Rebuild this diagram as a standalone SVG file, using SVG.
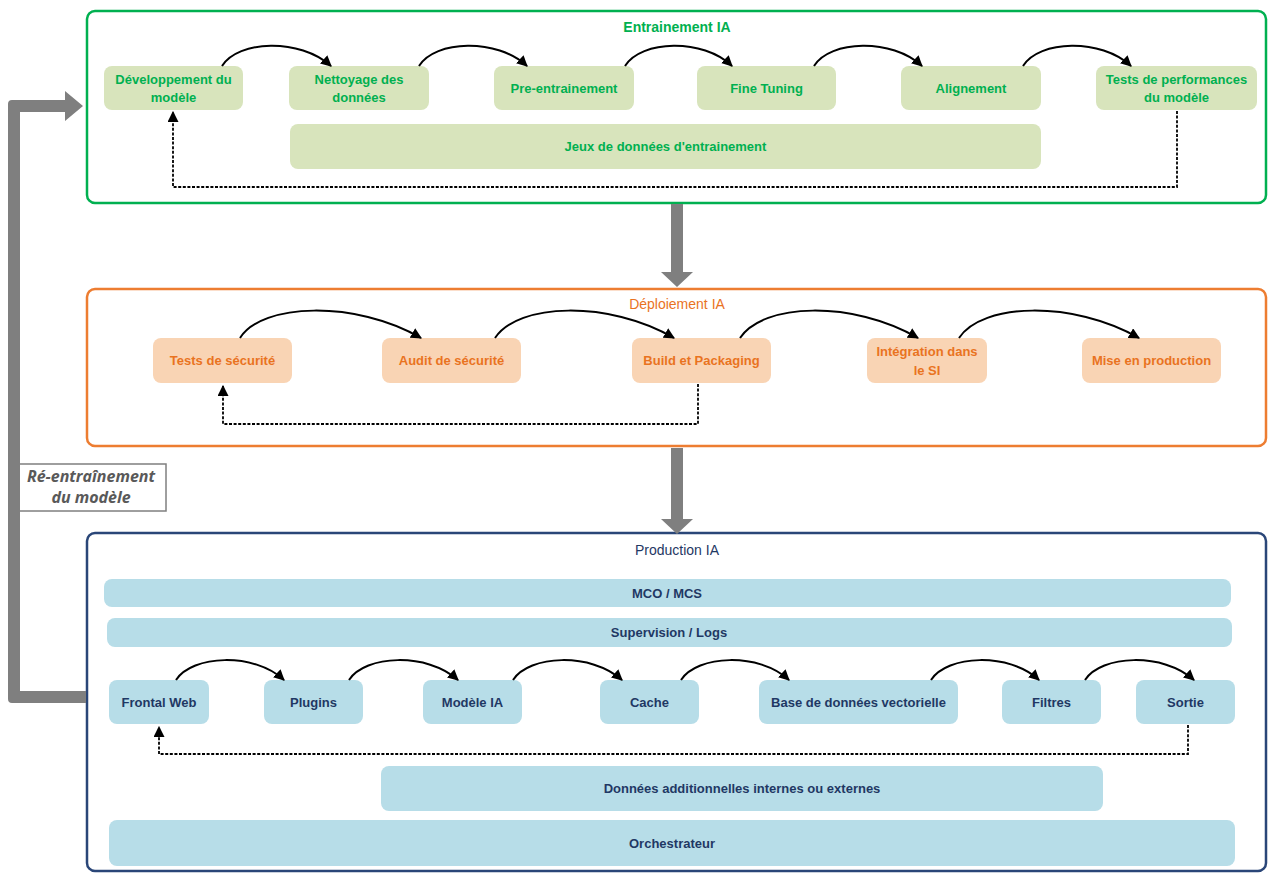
<svg xmlns="http://www.w3.org/2000/svg" width="1268" height="873" viewBox="0 0 1268 873">
<defs>
<style>
text{font-family:"Liberation Sans",Arial,sans-serif;text-anchor:middle}
.t{font-size:13px;font-weight:bold}
.g text{fill:#00b050}
.o text{fill:#e9731f}
.b text{fill:#1f3864}
.gn{fill:#d8e4bc}
.on{fill:#f9d4b4}
.bn{fill:#b7dde8}
.arc{fill:none;stroke:#000;stroke-width:2;marker-end:url(#ah)}
.dash{fill:none;stroke:#000;stroke-width:1.8;stroke-dasharray:3 1.6;marker-end:url(#ah)}
.grey{fill:#7f7f7f}
.lbl{font-family:"Open Sans","Liberation Sans",sans-serif;font-size:16px;font-style:italic;font-weight:bold;fill:#595959}
</style>
<marker id="ah" viewBox="0 0 10 10" refX="9" refY="5" markerWidth="11" markerHeight="11" markerUnits="userSpaceOnUse" orient="auto">
<path d="M0,0 L10,5 L0,10 z" fill="#000"/>
</marker>
</defs>
<rect width="1268" height="873" fill="#fff"/>

<!-- Panels -->
<g id="panel-entrainement" class="g">
<rect x="87" y="11" width="1179" height="192" rx="8" fill="#fff" stroke="#00b050" stroke-width="2.5"/>
<text x="677" y="32" style="font-size:14px;font-weight:bold">Entrainement IA</text>
</g>
<g id="panel-deploiement" class="o">
<rect x="87" y="289" width="1179" height="157" rx="8" fill="#fff" stroke="#ed7d31" stroke-width="2.5"/>
<text x="677" y="309" style="font-size:14px">Déploiement IA</text>
</g>
<g id="panel-production" class="b">
<rect x="87" y="533" width="1179" height="338" rx="8" fill="#fff" stroke="#2a4678" stroke-width="2.5"/>
<text x="677" y="555" style="font-size:14px">Production IA</text>
</g>

<!-- Entrainement nodes -->
<g class="g t">
<g id="n-dev"><rect class="gn" x="104" y="66" width="139" height="44" rx="8"/><text x="173.5" y="83.5">Développement du</text><text x="173.5" y="101.5">modèle</text></g>
<g id="n-nettoyage"><rect class="gn" x="289" y="66" width="140" height="44" rx="8"/><text x="359" y="83.5">Nettoyage des</text><text x="359" y="101.5">données</text></g>
<g id="n-pre"><rect class="gn" x="494" y="66" width="140" height="44" rx="8"/><text x="564" y="92.5">Pre-entrainement</text></g>
<g id="n-fine"><rect class="gn" x="697" y="66" width="139" height="44" rx="8"/><text x="766.5" y="92.5">Fine Tuning</text></g>
<g id="n-align"><rect class="gn" x="901" y="66" width="140" height="44" rx="8"/><text x="971" y="92.5">Alignement</text></g>
<g id="n-tests-perf"><rect class="gn" x="1096" y="66" width="161" height="44" rx="8"/><text x="1176.5" y="83.5">Tests de performances</text><text x="1176.5" y="101.5">du modèle</text></g>
<g id="n-jeux"><rect class="gn" x="290" y="124" width="751" height="45" rx="8"/><text x="665.5" y="150.5">Jeux de données d'entrainement</text></g>
</g>

<!-- Deploiement nodes -->
<g class="o t">
<g id="n-tests-secu"><rect class="on" x="153" y="338" width="139" height="45" rx="8"/><text x="222.5" y="365">Tests de sécurité</text></g>
<g id="n-audit"><rect class="on" x="382" y="338" width="139" height="45" rx="8"/><text x="451.5" y="365">Audit de sécurité</text></g>
<g id="n-build"><rect class="on" x="632" y="338" width="139" height="45" rx="8"/><text x="701.5" y="365">Build et Packaging</text></g>
<g id="n-integration"><rect class="on" x="867" y="338" width="120" height="45" rx="8"/><text x="927" y="355.5">Intégration dans</text><text x="927" y="374.5">le SI</text></g>
<g id="n-mise"><rect class="on" x="1082" y="338" width="139" height="45" rx="8"/><text x="1151.5" y="365">Mise en production</text></g>
</g>

<!-- Production nodes -->
<g class="b t">
<g id="n-mco"><rect class="bn" x="104" y="579" width="1127" height="28" rx="8"/><text x="667" y="597.5">MCO / MCS</text></g>
<g id="n-supervision"><rect class="bn" x="107" y="618" width="1125" height="29" rx="8"/><text x="669" y="637">Supervision / Logs</text></g>
<g id="n-frontal"><rect class="bn" x="109" y="680" width="100" height="44" rx="8"/><text x="159" y="706.5">Frontal Web</text></g>
<g id="n-plugins"><rect class="bn" x="264" y="680" width="99" height="44" rx="8"/><text x="313.5" y="706.5">Plugins</text></g>
<g id="n-modele"><rect class="bn" x="423" y="680" width="99" height="44" rx="8"/><text x="472.5" y="706.5">Modèle IA</text></g>
<g id="n-cache"><rect class="bn" x="600" y="680" width="99" height="44" rx="8"/><text x="649.5" y="706.5">Cache</text></g>
<g id="n-bdd"><rect class="bn" x="759" y="680" width="199" height="44" rx="8"/><text x="858.5" y="706.5">Base de données vectorielle</text></g>
<g id="n-filtres"><rect class="bn" x="1002" y="680" width="99" height="44" rx="8"/><text x="1051.5" y="706.5">Filtres</text></g>
<g id="n-sortie"><rect class="bn" x="1136" y="680" width="99" height="44" rx="8"/><text x="1185.5" y="706.5">Sortie</text></g>
<g id="n-donnees"><rect class="bn" x="381" y="766" width="722" height="45" rx="8"/><text x="742" y="792.5">Données additionnelles internes ou externes</text></g>
<g id="n-orch"><rect class="bn" x="109" y="820" width="1126" height="46" rx="8"/><text x="672" y="847.5">Orchestrateur</text></g>
</g>

<!-- Re-entrainement label -->
<g id="n-reentrainement">
<rect x="18" y="464" width="148" height="47" fill="#fff" stroke="#7f7f7f" stroke-width="1.5"/>
<text class="lbl" x="91" y="482">Ré-entraînement</text>
<text class="lbl" x="91" y="503">du modèle</text>
</g>

<!-- Connectors -->
<g id="connectors">
<!-- top arcs -->
<path class="arc" d="M222 66 C238 40 300 38 331 66"/>
<path class="arc" d="M419 66 C435 40 497 38 527 66"/>
<path class="arc" d="M625 66 C641 40 703 38 732 66"/>
<path class="arc" d="M814 66 C830 40 892 38 922 66"/>
<path class="arc" d="M1023 66 C1039 40 1101 38 1131 66"/>
<path class="dash" d="M1177 111 V187 H173 V112"/>
<!-- middle arcs -->
<path class="arc" d="M240 338 C262 303 355 300 421 338"/>
<path class="arc" d="M495 338 C518 303 608 300 674 338"/>
<path class="arc" d="M740 338 C763 303 852 300 918 338"/>
<path class="arc" d="M959 338 C982 303 1072 300 1139 338"/>
<path class="dash" d="M698 384 V424 H223 V386"/>
<!-- bottom arcs -->
<path class="arc" d="M176 680 C192 655 254 652 284 680"/>
<path class="arc" d="M349 680 C365 655 427 652 458 680"/>
<path class="arc" d="M513 680 C529 655 591 652 622 680"/>
<path class="arc" d="M681 680 C697 655 759 652 789 680"/>
<path class="arc" d="M931 680 C947 655 1009 652 1039 680"/>
<path class="arc" d="M1085 680 C1101 655 1163 652 1194 680"/>
<path class="dash" d="M1188 725 V754 H159 V727"/>
<!-- grey phase arrows -->
<path class="grey" d="M671 204 H683 V272 H693 L677 287 L661 272 H671 Z"/>
<path class="grey" d="M671 448 H683 V519 H693 L677 534 L661 519 H671 Z"/>
<!-- retrain arrow -->
<path class="grey" d="M86 691 V703 H12 Q8 703 8 699 V104 Q8 100 12 100 H65 V91 L83 106 L65 121 V112 H20 V691 Z"/>
</g>
</svg>
